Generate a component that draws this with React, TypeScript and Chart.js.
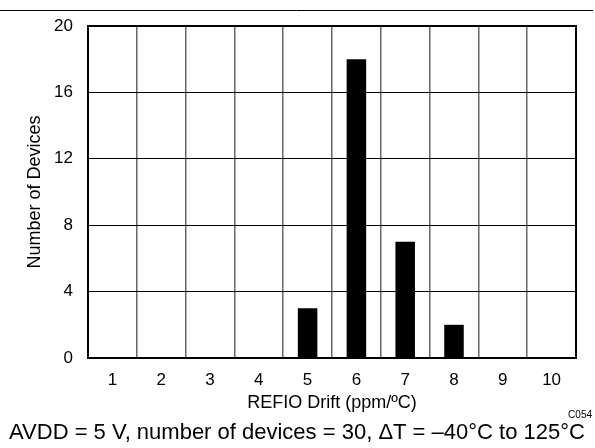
import React, { useEffect, useRef } from 'react';
import { Chart, registerables } from 'chart.js';

Chart.register(...registerables);

const categories = ['1', '2', '3', '4', '5', '6', '7', '8', '9', '10'];
const deviceCounts = [0, 0, 0, 0, 3, 18, 7, 2, 0, 0];
const yMin = 0;
const yMax = 20;
const yStep = 4;
const xTitle = 'REFIO Drift (ppm/ºC)';
const yTitle = 'Number of Devices';
const caption = 'AVDD = 5 V, number of devices = 30, ΔT = –40°C to 125°C';
const figureId = 'C054';

const FONT = '"Liberation Sans", Arial, Helvetica, sans-serif';

const decorPlugin = {
  id: 'decor',
  beforeDraw(chart: any) {
    const { ctx, width, height } = chart;
    ctx.save();
    ctx.fillStyle = '#fff';
    ctx.fillRect(0, 0, width, height);
    ctx.restore();
  },
  afterDraw(chart: any) {
    const { ctx, chartArea: a } = chart;
    ctx.save();
    ctx.strokeStyle = '#000';
    ctx.lineWidth = 2;
    ctx.strokeRect(a.left, a.top, a.right - a.left, a.bottom - a.top);
    ctx.lineWidth = 1;
    ctx.beginPath();
    ctx.moveTo(0, 10.5);
    ctx.lineTo(593, 10.5);
    ctx.stroke();
    ctx.fillStyle = '#000';
    ctx.font = `22px ${FONT}`;
    ctx.textAlign = 'center';
    ctx.textBaseline = 'middle';
    ctx.fillText(caption, 297, 433);
    ctx.font = `10px ${FONT}`;
    ctx.textAlign = 'right';
    ctx.textBaseline = 'alphabetic';
    ctx.fillText(figureId, 592, 418);
    ctx.restore();
  },
};

export default function App() {
  const ref = useRef<HTMLCanvasElement | null>(null);

  useEffect(() => {
    if (!ref.current) return;
    const chart = new Chart(ref.current, {
      type: 'bar',
      data: {
        labels: categories,
        datasets: [
          {
            data: deviceCounts,
            backgroundColor: '#000',
            borderWidth: 0,
            barPercentage: 0.4,
            categoryPercentage: 1,
          },
        ],
      },
      options: {
        responsive: false,
        animation: false,
        events: [],
        layout: { padding: { top: 26, right: 19, left: 0, bottom: 0 } },
        plugins: {
          legend: { display: false },
          tooltip: { enabled: false },
        },
        scales: {
          x: {
            grid: {
              offset: true,
              color: '#666',
              lineWidth: 1.5,
              drawTicks: false,
            },
            border: { display: false },
            ticks: {
              color: '#000',
              padding: 12,
              font: { family: FONT, size: 17 },
              maxRotation: 0,
            },
            title: {
              display: true,
              text: xTitle,
              color: '#000',
              font: { family: FONT, size: 18 },
              padding: { top: 0, bottom: 34 },
            },
            afterFit(scale: any) {
              scale.height = 90;
            },
          },
          y: {
            min: yMin,
            max: yMax,
            grid: { color: '#000', lineWidth: 1, drawTicks: false },
            border: { display: false },
            ticks: {
              stepSize: yStep,
              color: '#000',
              padding: 15,
              font: { family: FONT, size: 17 },
            },
            title: {
              display: true,
              text: yTitle,
              color: '#000',
              font: { family: FONT, size: 18 },
              padding: { top: 24, bottom: 0 },
            },
            afterFit(scale: any) {
              scale.width = 88;
            },
          },
        },
      },
      plugins: [decorPlugin],
    });
    return () => chart.destroy();
  }, []);

  return (
    <div style={{ position: 'absolute', left: 0, top: 0, width: 595, height: 448 }}>
      <canvas ref={ref} width={595} height={448} />
    </div>
  );
}
